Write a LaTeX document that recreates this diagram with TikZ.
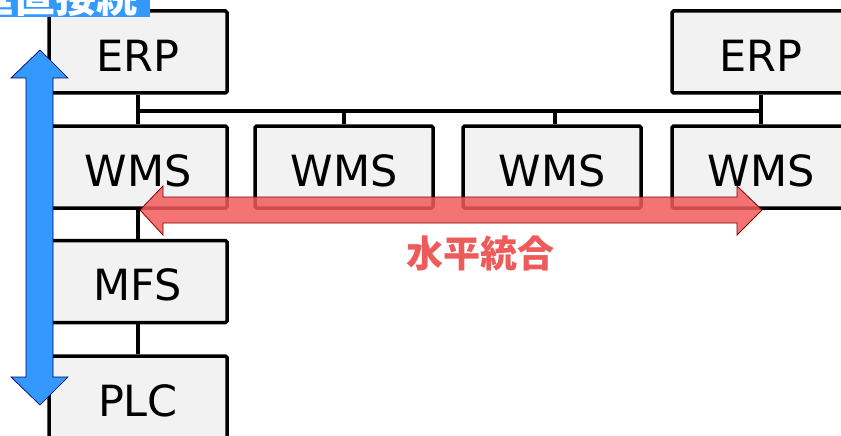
\documentclass[tikz,border=0pt]{standalone}
\usepackage{fontspec}
\setsansfont{DejaVu Sans}
\newfontfamily\cjk{Noto Sans CJK JP}
\usetikzlibrary{positioning}
\definecolor{boxfill}{HTML}{F2F2F2}
\definecolor{blueA}{HTML}{3399FF}
\definecolor{redA}{HTML}{F25B5B}
\definecolor{redL}{HTML}{EE5B5B}
\tikzset{
  sysbox/.style={draw=black, line width=3.5pt, fill=boxfill, rounded corners=1.5pt,
    minimum width=178pt, minimum height=82pt, inner sep=0pt,
    text height=38pt, text depth=0pt,
    font=\sffamily\fontsize{43}{43}\selectfont},
  link/.style={draw=black, line width=3.5pt},
}
\begin{document}
\begin{tikzpicture}[x=1pt,y=-1pt]
\useasboundingbox (0,0) rectangle (841,436);
\clip (0,0) rectangle (841,436);
% boxes
\node[sysbox] (erpL) at (138,52) {ERP};
\node[sysbox] (erpR) at (761,52) {ERP};
\node[sysbox] (wms1) at (138,167) {WMS};
\node[sysbox] (wms2) at (344,167) {WMS};
\node[sysbox] (wms3) at (552,167) {WMS};
\node[sysbox] (wms4) at (761,167) {WMS};
\node[sysbox] (mfs) at (138,281.5) {MFS};
\node[sysbox] (plc) at (138,397) {PLC};
% connectors
\coordinate (busy) at (0,111);
\draw[link] (erpL.south) -- (wms1.north);
\draw[link] (erpR.south) -- (wms4.north);
\draw[link] (erpL.south |- busy) -- (erpR.south |- busy);
\draw[link] (wms2.north) -- (wms2.north |- busy);
\draw[link] ([xshift=3pt]wms3.north) -- ([xshift=3pt]wms3.north |- busy);
\draw[link] (wms1.south) -- (mfs.north);
\draw[link] (mfs.south) -- (plc.north);
% horizontal double arrow (red)
\draw[draw=red!50!black, line width=0.8pt, fill=redA, fill opacity=0.85]
  (140,210) -- (163,186) -- (163,197) -- (737,197) -- (737,186) -- (762,210)
  -- (737,235) -- (737,223) -- (163,223) -- (163,235) -- cycle;
% vertical double arrow (blue)
\draw[draw=blue!40!black, line width=0.7pt, fill=blueA]
  (40,50) -- (68,78) -- (53,78) -- (53,377) -- (68,377) -- (40,405)
  -- (11,377) -- (26,377) -- (26,78) -- (11,78) -- cycle;
% labels
\node[font=\cjk\bfseries\fontsize{37}{37}\selectfont, text=redL, inner sep=0pt] (horiz) at (480,253) {水平統合};
\fill[blueA] (0,-10) rectangle (150,17.5);
\node[font=\cjk\bfseries\fontsize{41}{41}\selectfont, text=white, inner sep=0pt, anchor=east] (vert) at (138,-3) {垂直接続};
\end{tikzpicture}
\end{document}
